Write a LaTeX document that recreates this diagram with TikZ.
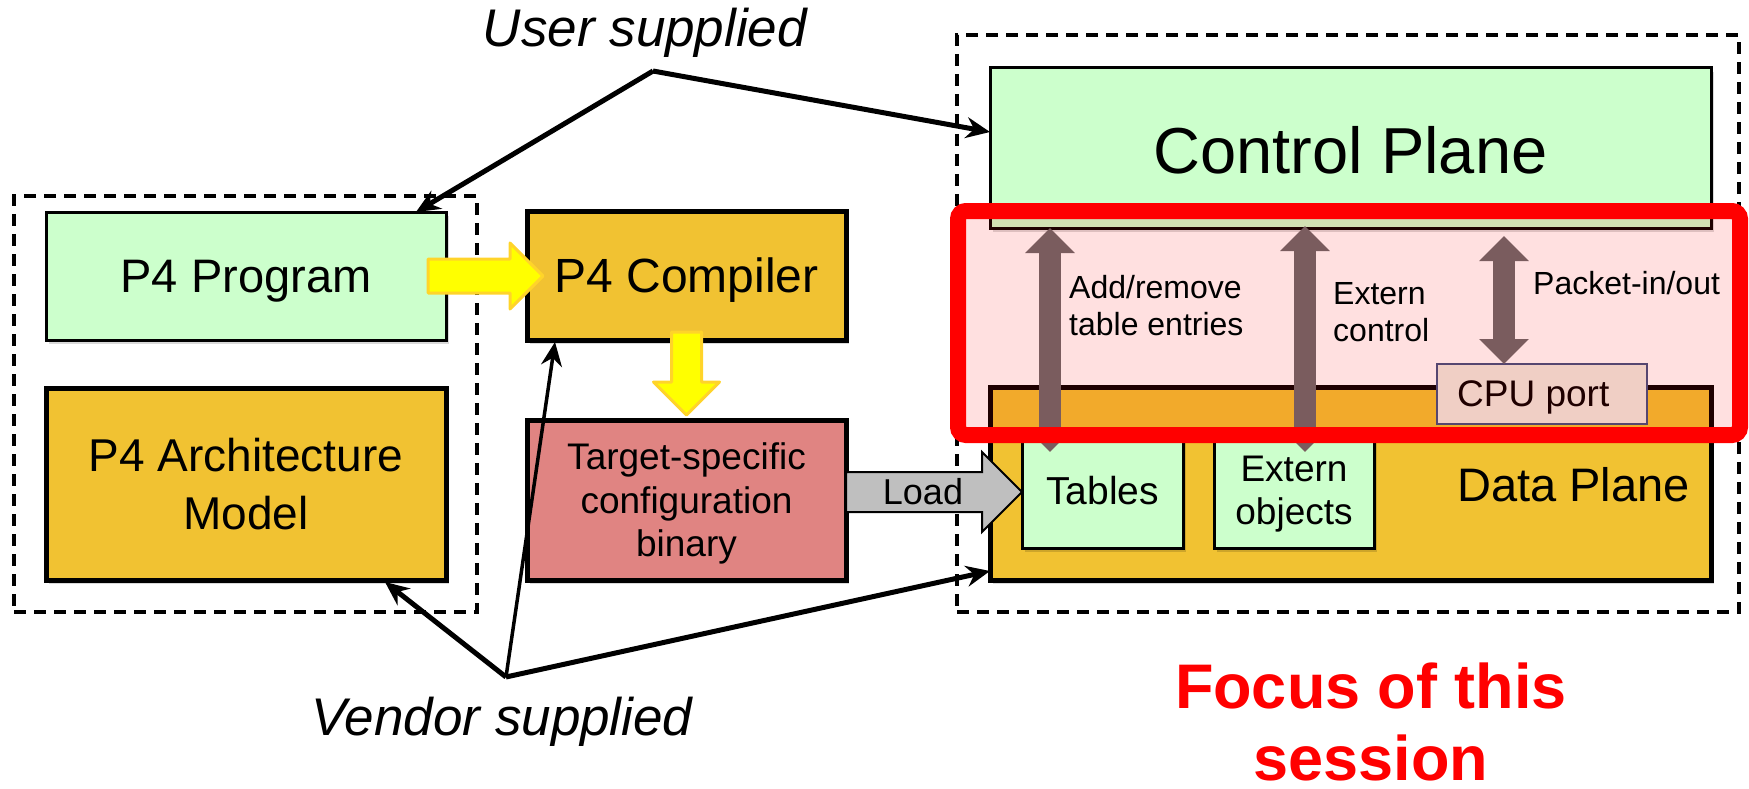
\documentclass[tikz,border=0pt]{standalone}
\usepackage{fontspec}
\setmainfont{Liberation Sans}
\usetikzlibrary{arrows.meta,calc,shadows}
\definecolor{lgreen}{HTML}{CCFFCC}
\definecolor{gold}{HTML}{F1C232}
\definecolor{salmon}{HTML}{E08482}
\definecolor{brownarr}{HTML}{7A5C5E}
\definecolor{yel}{HTML}{FFFF00}
\definecolor{yelborder}{HTML}{FFD42A}
\definecolor{cpufill}{HTML}{EEECE1}
\definecolor{cpuborder}{HTML}{3F5080}
\definecolor{loadgray}{HTML}{BFBFBF}
\definecolor{focusred}{HTML}{FF0000}
\newcommand\myfs[2]{\fontsize{#1}{#2}\selectfont}
\begin{document}
\begin{tikzpicture}[x=1pt,y=-1pt,
  box/.style={draw=black, inner sep=0pt, outer sep=0pt, anchor=north west, align=center, text depth=0pt,
    drop shadow={shadow xshift=3pt, shadow yshift=-4pt, fill=black, opacity=0.15}},
  dashbox/.style={draw=black, line width=3.5, dash pattern=on 12pt off 8pt, inner sep=0pt, outer sep=0pt, anchor=north west},
  conn/.style={line width=5, -{Stealth[length=24pt,width=21pt,inset=8pt]}},
  yarrow/.style={fill=yel, draw=yelborder, line width=3, line join=round},
  loadarrow/.style={fill=loadgray, draw=black, line width=2},
  bigarrow/.style={draw=brownarr, line width=22, {Triangle[width=48pt,length=25pt]}-{Triangle[width=48pt,length=25pt]}},
  lbl/.style={font=\myfs{32}{37}, align=left, anchor=west, inner sep=0pt},
]
\useasboundingbox (0,0) rectangle (1749,789);

% dashed groups
\node[dashbox, minimum width=463, minimum height=416] (leftgrp) at (14,196) {};
\node[dashbox, minimum width=782, minimum height=577] (rightgrp) at (957,35) {};

% left side boxes
\node[box, line width=3, fill=lgreen, minimum width=400, minimum height=128, font=\myfs{47}{56}] (prog) at (46,212) {P4 Program};
\node[box, line width=5, fill=gold, minimum width=400, minimum height=192, font=\myfs{46}{58}, text depth=] (arch) at (46,388) {P4 Architecture\\Model};
\node[box, line width=5, fill=gold, minimum width=319, minimum height=129, font=\myfs{48}{56}] (comp) at (527,211) {P4 Compiler};
\node[box, line width=5, fill=salmon, minimum width=319, minimum height=160, font=\myfs{37}{43.5}] (cfg) at (527,420) {Target-specific\\configuration\\binary};

% right side
\node[box, line width=3, fill=lgreen, minimum width=721, minimum height=160, font=\myfs{65}{75}] (cp) at (990,68) {\raisebox{-3pt}{Control Plane}};
\node[box, line width=5, fill=gold, minimum width=721, minimum height=193] (dp) at (990,387) {};
\node[font=\myfs{47}{56}, anchor=east, inner sep=0pt] (dptext) at ($(dp.east)+(-21,1)$) {Data Plane};
\node[box, line width=3, fill=lgreen, minimum width=161, minimum height=116, font=\myfs{39}{45}] (tables) at (1022,432) {Tables};
\node[box, line width=3, fill=lgreen, minimum width=160, minimum height=116, font=\myfs{37}{43}] (ext) at (1214,432) {Extern\\objects};
\node[draw=cpuborder, fill=cpufill, line width=1.5, inner sep=0pt, outer sep=0pt, anchor=north west, minimum width=210, minimum height=60] (cpu) at (1437,364) {};
\node[font=\myfs{37}{43}, anchor=west, inner sep=0pt, text depth=0pt] (cputext) at ($(cpu.west)+(20,0)$) {CPU port};

% user / vendor supplied
\node[font=\myfs{53}{60}\itshape, anchor=base, inner sep=0pt] (user) at (645,47) {User supplied};
\node[font=\myfs{53}{60}\itshape, anchor=base, inner sep=0pt] (vendor) at (502,735) {Vendor supplied};
\coordinate (uapex) at (653,71);
\coordinate (vapex) at (506,677);

\draw[conn] (uapex) -- ($(prog.north east)+(-30,0)$);
\draw[conn] (uapex) -- ($(cp.west)+(0,-16)$);
\draw[conn] (vapex) -- ($(arch.south east)+(-61,2)$);
\draw[conn, line width=3.5] (vapex) -- ($(comp.south west)+(28,2)$);
\draw[conn] (vapex) -- ($(dp.south west)+(0,-9)$);

% yellow block arrows
\draw[yarrow] ($(prog.east)+(-18,-17)$) -- ++(82,0) -- ++(0,-16) -- ++(33,33) -- ++(-33,33) -- ++(0,-16) -- ++(-82,0) -- cycle;
\draw[yarrow] ($(comp.south)+(-15,-8)$) -- ++(30,0) -- ++(0,50) -- ++(18,0) -- ++(-33,33) -- ++(-33,-33) -- ++(18,0) -- cycle;

% load arrow
\draw[loadarrow] ($(cfg.east)+(0,-28)$) -- ++(136,0) -- ++(0,-20) -- ++(40,40) -- ++(-40,40) -- ++(0,-20) -- ++(-136,0) -- cycle;
\node[font=\myfs{36}{42}, inner sep=0pt] (load) at (923,492) {Load};

% focus overlay
\node[fill=focusred, fill opacity=0.12, rounded corners=8, inner sep=0pt, outer sep=0pt, anchor=north west, minimum width=782, minimum height=224] (focus) at (958,211) {};

% control arrows
\draw[bigarrow] ($(cp.south west)+(60,0)$) -- ($(tables.north west)+(28,20)$);
\draw[bigarrow] ($(cp.south west)+(315,-2)$) -- ($(ext.north west)+(91,20)$);
\draw[bigarrow] ($(cp.south west)+(514,8)$) -- ($(cpu.north west)+(67,0)$);

\draw[draw=focusred, line width=16, rounded corners=8] (focus.north west) rectangle (focus.south east);

\node[lbl] (l1) at (1069,306) {Add/remove\\table entries};
\node[lbl] (l2) at (1333,312) {Extern\\control};
\node[lbl] (l3) at (1533,283) {Packet-in/out};

% focus text
\node[font=\myfs{63}{75}\bfseries, text=focusred, anchor=base, inner sep=0pt] (f1) at (1371,708) {Focus of this};
\node[font=\myfs{63}{75}\bfseries, text=focusred, anchor=base, inner sep=0pt] (f2) at (1371,780) {session};
\end{tikzpicture}
\end{document}
